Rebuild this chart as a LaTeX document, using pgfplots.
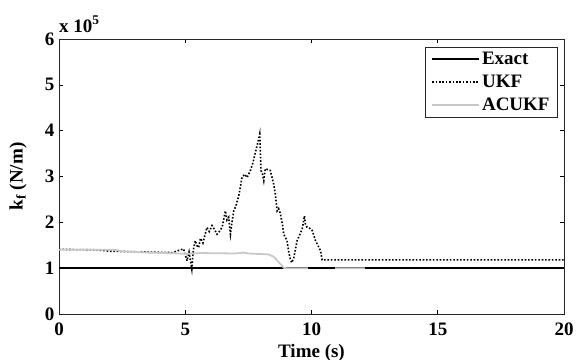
\documentclass[border=0pt]{standalone}
\usepackage{fontspec}
\setmainfont{Liberation Serif}
\usepackage{pgfplots}
\pgfplotsset{compat=1.18}
\definecolor{acgray}{RGB}{200,200,200}
\begin{document}
\begin{tikzpicture}
\begin{axis}[
  scale only axis,
  width=505bp, height=275bp,
  at={(0,0)}, anchor=south west,
  clip mode=individual,
  xmin=0, xmax=20, ymin=0, ymax=6,
  xtick={0,5,10,15,20}, ytick={0,1,2,3,4,5,6},
  tick align=inside, major tick length=4bp,
  tick style={black, line width=0.6bp},
  axis line style={black!85, line width=0.8bp},
  /pgf/number format/assume math mode=true,
  every tick label/.append style={font=\fontsize{19bp}{22bp}\selectfont\bfseries},
  xticklabel style={anchor=base, yshift=-21bp},
  yticklabel style={anchor=east, xshift=-1bp},
  xlabel={Time (s)},
  xlabel style={font=\fontsize{19bp}{22bp}\selectfont\bfseries, at={(axis description cs:0.5,0)}, anchor=base, yshift=-43bp},
  ylabel={k\textsubscript{f} (N/m)},
  ylabel style={font=\fontsize{19bp}{22bp}\selectfont\bfseries, at={(axis description cs:0,0.5)}, anchor=center, yshift=41bp},
  legend cell align=left,
  legend style={at={(1,1)}, anchor=north east, xshift=-6bp, yshift=-8bp,
    draw=black!85, line width=0.8bp, font=\fontsize{19bp}{22bp}\selectfont\bfseries,
    inner xsep=6bp, inner ysep=3bp, row sep=5bp},
  legend image code/.code={\draw[#1] (0bp,0bp) -- (47bp,0bp);},
]
\addplot[black, line width=1.8bp] coordinates {(0,1) (20,1)};
\addlegendentry{Exact}
\addplot[black, line width=1.6bp, dash pattern=on 1.6bp off 1.8bp] coordinates {
(0,1.41) (1.5,1.40) (2.0,1.37) (4.5,1.34) (4.8,1.40)
(4.93,1.42) (5.0,1.30) (5.07,1.16) (5.15,1.35) (5.26,0.98) (5.32,1.40) (5.40,1.60) (5.45,1.50) (5.53,1.45)
(5.6,1.65) (5.7,1.55) (5.86,1.89) (5.95,1.80) (6.06,1.93) (6.15,1.85) (6.26,1.74) (6.35,1.80) (6.46,1.89)
(6.59,2.25) (6.65,2.05) (6.72,2.11) (6.79,1.74) (6.85,2.0) (6.92,2.25) (7.0,2.35) (7.12,2.58)
(7.25,2.98) (7.35,3.05) (7.45,2.98) (7.58,3.13) (7.68,3.30) (7.78,3.53) (7.88,3.75) (7.95,3.93)
(8.00,3.13) (8.06,3.05) (8.11,2.91) (8.17,3.17) (8.27,3.15) (8.37,3.13) (8.50,2.84) (8.57,2.60)
(8.64,2.25) (8.70,2.30) (8.77,2.18) (8.85,1.95) (8.90,1.74) (9.03,1.60) (9.10,1.35) (9.17,1.18)
(9.22,1.12) (9.30,1.23) (9.43,1.60) (9.55,1.75) (9.63,1.85) (9.72,2.14) (9.76,1.95) (9.83,1.89)
(9.93,1.87) (10.03,1.82) (10.10,1.70) (10.16,1.60) (10.25,1.50) (10.36,1.38) (10.42,1.18) (20,1.18)};
\addlegendentry{UKF}
\addplot[acgray, line width=1.8bp] coordinates {
(0,1.40) (2.2,1.40) (2.5,1.37) (3.5,1.34) (4.8,1.32) (5.0,1.31) (5.6,1.33) (7.0,1.32)
(7.3,1.34) (7.5,1.32) (8.3,1.30) (8.5,1.25) (8.77,1.09) (8.9,1.01) (9.0,1.0) (20,1.0)};
\addlegendentry{ACUKF}
\addplot[black, line width=1.8bp, forget plot] coordinates {(9.85,1) (10.95,1)};
\addplot[black, line width=1.8bp, forget plot] coordinates {(12.1,1) (20,1)};
\node[anchor=base west, inner sep=0pt, font=\fontsize{19bp}{22bp}\selectfont\bfseries]
  at (rel axis cs:0,1) [yshift=7bp] {x 10\textsuperscript{5}};
\end{axis}
\pgfresetboundingbox
\useasboundingbox (-59bp,-46bp) rectangle (517bp,314bp);
\end{tikzpicture}
\end{document}
